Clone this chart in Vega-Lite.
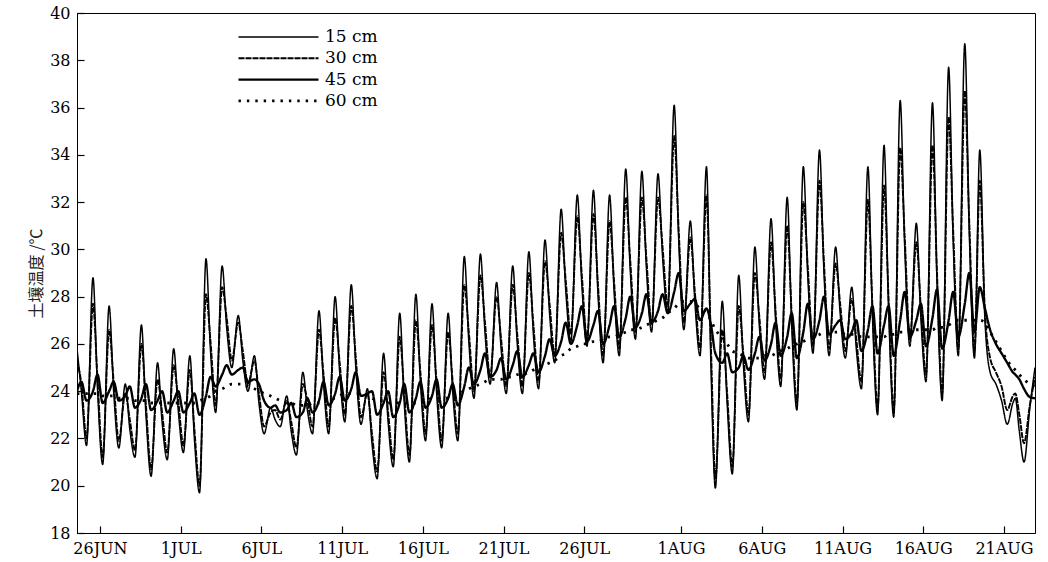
{
 "$schema": "https://vega.github.io/schema/vega-lite/v6.json",
 "width": 958, "height": 520,
 "autosize": {"type": "none"},
 "padding": {"left": 77, "top": 13, "right": 13, "bottom": 29},
 "background": "white",
 "config": {"view": {"stroke": "black", "strokeWidth": 1}},
 "data": {"values": [
{"t":-6.42,"15 cm":25.8,"30 cm":25.3,"45 cm":24.0,"60 cm":23.9},
{"t":-6.15,"15 cm":24.0,"30 cm":24.3,"45 cm":24.4,"60 cm":23.9},
{"t":-5.83,"15 cm":21.7,"30 cm":22.0,"45 cm":23.6,"60 cm":23.9},
{"t":-5.43,"15 cm":28.8,"30 cm":27.7,"45 cm":24.0,"60 cm":23.9},
{"t":-5.15,"15 cm":24.1,"30 cm":24.5,"45 cm":24.7,"60 cm":23.9},
{"t":-4.83,"15 cm":20.9,"30 cm":21.2,"45 cm":23.5,"60 cm":23.8},
{"t":-4.43,"15 cm":27.6,"30 cm":26.6,"45 cm":24.0,"60 cm":23.8},
{"t":-4.15,"15 cm":24.0,"30 cm":24.4,"45 cm":24.4,"60 cm":23.8},
{"t":-3.83,"15 cm":21.6,"30 cm":21.9,"45 cm":23.6,"60 cm":23.7},
{"t":-3.43,"15 cm":24.3,"30 cm":23.9,"45 cm":23.8,"60 cm":23.7},
{"t":-3.15,"15 cm":22.4,"30 cm":22.8,"45 cm":24.2,"60 cm":23.7},
{"t":-2.83,"15 cm":21.2,"30 cm":21.5,"45 cm":23.3,"60 cm":23.6},
{"t":-2.43,"15 cm":26.8,"30 cm":26.0,"45 cm":23.7,"60 cm":23.6},
{"t":-2.15,"15 cm":23.0,"30 cm":23.4,"45 cm":24.3,"60 cm":23.6},
{"t":-1.83,"15 cm":20.4,"30 cm":20.7,"45 cm":23.2,"60 cm":23.5},
{"t":-1.43,"15 cm":25.2,"30 cm":24.5,"45 cm":23.6,"60 cm":23.5},
{"t":-1.15,"15 cm":22.7,"30 cm":23.1,"45 cm":24.0,"60 cm":23.5},
{"t":-0.83,"15 cm":21.1,"30 cm":21.4,"45 cm":23.1,"60 cm":23.5},
{"t":-0.43,"15 cm":25.8,"30 cm":25.1,"45 cm":23.6,"60 cm":23.5},
{"t":-0.15,"15 cm":23.2,"30 cm":23.6,"45 cm":24.0,"60 cm":23.5},
{"t":0.17,"15 cm":21.4,"30 cm":21.7,"45 cm":23.1,"60 cm":23.5},
{"t":0.57,"15 cm":25.5,"30 cm":24.9,"45 cm":23.5,"60 cm":23.5},
{"t":0.85,"15 cm":22.0,"30 cm":22.4,"45 cm":23.9,"60 cm":23.5},
{"t":1.17,"15 cm":19.7,"30 cm":20.0,"45 cm":23.0,"60 cm":23.6},
{"t":1.57,"15 cm":29.6,"30 cm":28.1,"45 cm":23.8,"60 cm":23.7},
{"t":1.85,"15 cm":25.7,"30 cm":26.1,"45 cm":24.6,"60 cm":23.8},
{"t":2.17,"15 cm":23.1,"30 cm":23.4,"45 cm":24.2,"60 cm":24.0},
{"t":2.57,"15 cm":29.3,"30 cm":28.4,"45 cm":24.7,"60 cm":24.1},
{"t":2.85,"15 cm":26.7,"30 cm":27.1,"45 cm":25.1,"60 cm":24.2},
{"t":3.17,"15 cm":25.0,"30 cm":25.3,"45 cm":24.7,"60 cm":24.3},
{"t":3.57,"15 cm":27.2,"30 cm":26.9,"45 cm":24.9,"60 cm":24.3},
{"t":3.85,"15 cm":25.3,"30 cm":25.7,"45 cm":25.0,"60 cm":24.3},
{"t":4.17,"15 cm":24.0,"30 cm":24.3,"45 cm":24.4,"60 cm":24.2},
{"t":4.57,"15 cm":25.5,"30 cm":25.3,"45 cm":24.5,"60 cm":24.1},
{"t":4.85,"15 cm":23.5,"30 cm":23.9,"45 cm":24.3,"60 cm":24.0},
{"t":5.17,"15 cm":22.2,"30 cm":22.5,"45 cm":23.6,"60 cm":23.9},
{"t":5.57,"15 cm":23.3,"30 cm":23.1,"45 cm":23.3,"60 cm":23.8},
{"t":5.85,"15 cm":22.8,"30 cm":23.2,"45 cm":23.4,"60 cm":23.7},
{"t":6.17,"15 cm":22.5,"30 cm":22.8,"45 cm":23.1,"60 cm":23.6},
{"t":6.57,"15 cm":23.8,"30 cm":23.6,"45 cm":23.2,"60 cm":23.5},
{"t":6.85,"15 cm":22.3,"30 cm":22.7,"45 cm":23.5,"60 cm":23.5},
{"t":7.17,"15 cm":21.3,"30 cm":21.6,"45 cm":22.9,"60 cm":23.4},
{"t":7.57,"15 cm":24.8,"30 cm":24.3,"45 cm":23.1,"60 cm":23.4},
{"t":7.85,"15 cm":23.2,"30 cm":23.6,"45 cm":23.7,"60 cm":23.4},
{"t":8.17,"15 cm":22.2,"30 cm":22.5,"45 cm":23.1,"60 cm":23.5},
{"t":8.57,"15 cm":27.4,"30 cm":26.6,"45 cm":23.6,"60 cm":23.5},
{"t":8.85,"15 cm":24.3,"30 cm":24.7,"45 cm":24.4,"60 cm":23.6},
{"t":9.17,"15 cm":22.2,"30 cm":22.5,"45 cm":23.4,"60 cm":23.7},
{"t":9.57,"15 cm":28.0,"30 cm":27.1,"45 cm":23.9,"60 cm":23.7},
{"t":9.85,"15 cm":24.8,"30 cm":25.2,"45 cm":24.6,"60 cm":23.8},
{"t":10.17,"15 cm":22.7,"30 cm":23.0,"45 cm":23.6,"60 cm":23.9},
{"t":10.57,"15 cm":28.5,"30 cm":27.6,"45 cm":24.1,"60 cm":23.9},
{"t":10.85,"15 cm":25.0,"30 cm":25.4,"45 cm":24.8,"60 cm":23.9},
{"t":11.17,"15 cm":22.6,"30 cm":22.9,"45 cm":23.8,"60 cm":23.9},
{"t":11.57,"15 cm":24.1,"30 cm":23.9,"45 cm":23.9,"60 cm":23.8},
{"t":11.85,"15 cm":21.8,"30 cm":22.2,"45 cm":24.0,"60 cm":23.7},
{"t":12.17,"15 cm":20.3,"30 cm":20.6,"45 cm":23.0,"60 cm":23.6},
{"t":12.57,"15 cm":25.6,"30 cm":24.8,"45 cm":23.5,"60 cm":23.6},
{"t":12.85,"15 cm":22.7,"30 cm":23.1,"45 cm":24.0,"60 cm":23.5},
{"t":13.17,"15 cm":20.8,"30 cm":21.1,"45 cm":22.9,"60 cm":23.5},
{"t":13.57,"15 cm":27.3,"30 cm":26.3,"45 cm":23.5,"60 cm":23.5},
{"t":13.85,"15 cm":23.5,"30 cm":23.9,"45 cm":24.3,"60 cm":23.5},
{"t":14.17,"15 cm":21.0,"30 cm":21.3,"45 cm":23.1,"60 cm":23.5},
{"t":14.57,"15 cm":28.1,"30 cm":27.0,"45 cm":23.7,"60 cm":23.5},
{"t":14.85,"15 cm":24.4,"30 cm":24.8,"45 cm":24.4,"60 cm":23.6},
{"t":15.17,"15 cm":21.9,"30 cm":22.2,"45 cm":23.3,"60 cm":23.6},
{"t":15.57,"15 cm":27.7,"30 cm":26.8,"45 cm":23.8,"60 cm":23.7},
{"t":15.85,"15 cm":24.0,"30 cm":24.4,"45 cm":24.5,"60 cm":23.7},
{"t":16.17,"15 cm":21.6,"30 cm":21.9,"45 cm":23.3,"60 cm":23.7},
{"t":16.57,"15 cm":27.3,"30 cm":26.5,"45 cm":23.7,"60 cm":23.7},
{"t":16.85,"15 cm":24.0,"30 cm":24.4,"45 cm":24.3,"60 cm":23.8},
{"t":17.17,"15 cm":21.9,"30 cm":22.2,"45 cm":23.4,"60 cm":23.9},
{"t":17.57,"15 cm":29.7,"30 cm":28.5,"45 cm":24.2,"60 cm":24.0},
{"t":17.85,"15 cm":26.1,"30 cm":26.5,"45 cm":25.0,"60 cm":24.1},
{"t":18.17,"15 cm":23.7,"30 cm":24.0,"45 cm":24.3,"60 cm":24.2},
{"t":18.57,"15 cm":29.8,"30 cm":28.9,"45 cm":24.9,"60 cm":24.3},
{"t":18.85,"15 cm":26.5,"30 cm":26.9,"45 cm":25.6,"60 cm":24.4},
{"t":19.17,"15 cm":24.3,"30 cm":24.6,"45 cm":24.6,"60 cm":24.5},
{"t":19.57,"15 cm":28.6,"30 cm":28.0,"45 cm":24.9,"60 cm":24.5},
{"t":19.85,"15 cm":25.8,"30 cm":26.2,"45 cm":25.4,"60 cm":24.5},
{"t":20.17,"15 cm":23.9,"30 cm":24.2,"45 cm":24.5,"60 cm":24.6},
{"t":20.57,"15 cm":29.3,"30 cm":28.5,"45 cm":25.1,"60 cm":24.6},
{"t":20.85,"15 cm":26.0,"30 cm":26.4,"45 cm":25.7,"60 cm":24.7},
{"t":21.17,"15 cm":23.9,"30 cm":24.2,"45 cm":24.6,"60 cm":24.7},
{"t":21.57,"15 cm":29.9,"30 cm":29.0,"45 cm":25.1,"60 cm":24.8},
{"t":21.85,"15 cm":26.4,"30 cm":26.8,"45 cm":25.6,"60 cm":24.9},
{"t":22.17,"15 cm":24.1,"30 cm":24.4,"45 cm":24.8,"60 cm":25.0},
{"t":22.57,"15 cm":30.4,"30 cm":29.5,"45 cm":25.5,"60 cm":25.1},
{"t":22.85,"15 cm":27.3,"30 cm":27.7,"45 cm":26.2,"60 cm":25.2},
{"t":23.17,"15 cm":25.2,"30 cm":25.5,"45 cm":25.5,"60 cm":25.3},
{"t":23.57,"15 cm":31.7,"30 cm":30.7,"45 cm":26.1,"60 cm":25.5},
{"t":23.85,"15 cm":28.3,"30 cm":28.7,"45 cm":26.9,"60 cm":25.6},
{"t":24.17,"15 cm":26.1,"30 cm":26.4,"45 cm":26.0,"60 cm":25.8},
{"t":24.57,"15 cm":32.3,"30 cm":31.4,"45 cm":26.8,"60 cm":25.9},
{"t":24.85,"15 cm":28.5,"30 cm":28.9,"45 cm":27.6,"60 cm":26.0},
{"t":25.17,"15 cm":25.9,"30 cm":26.2,"45 cm":26.1,"60 cm":26.0},
{"t":25.57,"15 cm":32.5,"30 cm":31.5,"45 cm":26.8,"60 cm":26.1},
{"t":25.85,"15 cm":28.1,"30 cm":28.5,"45 cm":27.4,"60 cm":26.1},
{"t":26.17,"15 cm":25.2,"30 cm":25.5,"45 cm":26.0,"60 cm":26.2},
{"t":26.57,"15 cm":32.3,"30 cm":31.2,"45 cm":26.8,"60 cm":26.3},
{"t":26.85,"15 cm":28.2,"30 cm":28.6,"45 cm":27.6,"60 cm":26.3},
{"t":27.17,"15 cm":25.5,"30 cm":25.8,"45 cm":26.3,"60 cm":26.4},
{"t":27.57,"15 cm":33.4,"30 cm":32.2,"45 cm":27.1,"60 cm":26.5},
{"t":27.85,"15 cm":29.1,"30 cm":29.5,"45 cm":28.0,"60 cm":26.6},
{"t":28.17,"15 cm":26.2,"30 cm":26.5,"45 cm":26.7,"60 cm":26.6},
{"t":28.57,"15 cm":33.3,"30 cm":32.2,"45 cm":27.3,"60 cm":26.7},
{"t":28.85,"15 cm":29.2,"30 cm":29.6,"45 cm":28.1,"60 cm":26.8},
{"t":29.17,"15 cm":26.5,"30 cm":26.8,"45 cm":26.9,"60 cm":26.9},
{"t":29.57,"15 cm":33.2,"30 cm":32.2,"45 cm":27.4,"60 cm":27.0},
{"t":29.85,"15 cm":29.7,"30 cm":30.1,"45 cm":28.1,"60 cm":27.1},
{"t":30.17,"15 cm":27.3,"30 cm":27.6,"45 cm":27.3,"60 cm":27.3},
{"t":30.57,"15 cm":36.1,"30 cm":34.8,"45 cm":28.2,"60 cm":27.5},
{"t":30.85,"15 cm":30.4,"30 cm":30.8,"45 cm":29.0,"60 cm":27.7},
{"t":31.17,"15 cm":26.6,"30 cm":26.9,"45 cm":27.4,"60 cm":27.8},
{"t":31.57,"15 cm":31.2,"30 cm":30.5,"45 cm":27.7,"60 cm":27.8},
{"t":31.85,"15 cm":27.8,"30 cm":28.2,"45 cm":27.9,"60 cm":27.7},
{"t":32.17,"15 cm":25.5,"30 cm":25.8,"45 cm":27.0,"60 cm":27.5},
{"t":32.57,"15 cm":33.5,"30 cm":32.3,"45 cm":27.5,"60 cm":27.3},
{"t":32.85,"15 cm":25.0,"30 cm":25.8,"45 cm":26.8,"60 cm":27.0},
{"t":33.12,"15 cm":19.9,"30 cm":20.3,"45 cm":25.6,"60 cm":26.6},
{"t":33.55,"15 cm":27.8,"30 cm":26.6,"45 cm":25.2,"60 cm":26.3},
{"t":33.85,"15 cm":23.5,"30 cm":23.9,"45 cm":25.6,"60 cm":26.0},
{"t":34.17,"15 cm":20.5,"30 cm":20.8,"45 cm":24.8,"60 cm":25.7},
{"t":34.57,"15 cm":28.9,"30 cm":27.6,"45 cm":25.0,"60 cm":25.6},
{"t":34.85,"15 cm":25.2,"30 cm":25.6,"45 cm":25.5,"60 cm":25.5},
{"t":35.17,"15 cm":22.7,"30 cm":23.0,"45 cm":24.9,"60 cm":25.4},
{"t":35.57,"15 cm":30.1,"30 cm":29.0,"45 cm":25.6,"60 cm":25.4},
{"t":35.85,"15 cm":26.7,"30 cm":27.1,"45 cm":26.3,"60 cm":25.4},
{"t":36.17,"15 cm":24.5,"30 cm":24.8,"45 cm":25.3,"60 cm":25.5},
{"t":36.57,"15 cm":31.3,"30 cm":30.3,"45 cm":26.0,"60 cm":25.5},
{"t":36.85,"15 cm":27.0,"30 cm":27.4,"45 cm":26.9,"60 cm":25.6},
{"t":37.17,"15 cm":24.2,"30 cm":24.5,"45 cm":25.5,"60 cm":25.7},
{"t":37.57,"15 cm":32.2,"30 cm":31.0,"45 cm":26.3,"60 cm":25.8},
{"t":37.85,"15 cm":26.8,"30 cm":27.2,"45 cm":27.3,"60 cm":25.9},
{"t":38.17,"15 cm":23.2,"30 cm":23.5,"45 cm":25.4,"60 cm":26.0},
{"t":38.57,"15 cm":33.5,"30 cm":32.0,"45 cm":26.5,"60 cm":26.1},
{"t":38.85,"15 cm":28.8,"30 cm":29.2,"45 cm":27.7,"60 cm":26.2},
{"t":39.17,"15 cm":25.6,"30 cm":25.9,"45 cm":26.2,"60 cm":26.3},
{"t":39.57,"15 cm":34.2,"30 cm":32.9,"45 cm":27.0,"60 cm":26.4},
{"t":39.85,"15 cm":29.0,"30 cm":29.4,"45 cm":28.0,"60 cm":26.5},
{"t":40.17,"15 cm":25.5,"30 cm":25.8,"45 cm":26.4,"60 cm":26.5},
{"t":40.57,"15 cm":30.1,"30 cm":29.4,"45 cm":26.8,"60 cm":26.5},
{"t":40.85,"15 cm":27.3,"30 cm":27.7,"45 cm":27.0,"60 cm":26.5},
{"t":41.17,"15 cm":25.4,"30 cm":25.7,"45 cm":26.2,"60 cm":26.4},
{"t":41.57,"15 cm":28.4,"30 cm":27.9,"45 cm":26.5,"60 cm":26.4},
{"t":41.85,"15 cm":25.8,"30 cm":26.2,"45 cm":27.0,"60 cm":26.4},
{"t":42.17,"15 cm":24.1,"30 cm":24.4,"45 cm":25.7,"60 cm":26.3},
{"t":42.57,"15 cm":33.5,"30 cm":32.1,"45 cm":26.6,"60 cm":26.3},
{"t":42.85,"15 cm":27.2,"30 cm":27.6,"45 cm":27.6,"60 cm":26.3},
{"t":43.17,"15 cm":23.0,"30 cm":23.3,"45 cm":25.6,"60 cm":26.3},
{"t":43.57,"15 cm":34.4,"30 cm":32.7,"45 cm":26.8,"60 cm":26.3},
{"t":43.85,"15 cm":27.5,"30 cm":27.9,"45 cm":27.6,"60 cm":26.4},
{"t":44.17,"15 cm":22.9,"30 cm":23.2,"45 cm":25.5,"60 cm":26.4},
{"t":44.57,"15 cm":36.3,"30 cm":34.3,"45 cm":27.0,"60 cm":26.5},
{"t":44.85,"15 cm":30.1,"30 cm":30.5,"45 cm":28.2,"60 cm":26.5},
{"t":45.17,"15 cm":25.9,"30 cm":26.2,"45 cm":26.3,"60 cm":26.6},
{"t":45.57,"15 cm":31.1,"30 cm":30.3,"45 cm":27.0,"60 cm":26.6},
{"t":45.85,"15 cm":27.1,"30 cm":27.5,"45 cm":27.7,"60 cm":26.6},
{"t":46.17,"15 cm":24.4,"30 cm":24.7,"45 cm":25.9,"60 cm":26.6},
{"t":46.57,"15 cm":36.2,"30 cm":34.4,"45 cm":27.1,"60 cm":26.6},
{"t":46.85,"15 cm":28.6,"30 cm":29.0,"45 cm":28.3,"60 cm":26.7},
{"t":47.17,"15 cm":23.6,"30 cm":23.9,"45 cm":25.8,"60 cm":26.7},
{"t":47.57,"15 cm":37.7,"30 cm":35.6,"45 cm":27.0,"60 cm":26.8},
{"t":47.85,"15 cm":30.4,"30 cm":30.8,"45 cm":28.2,"60 cm":26.9},
{"t":48.17,"15 cm":25.5,"30 cm":25.8,"45 cm":26.3,"60 cm":27.0},
{"t":48.57,"15 cm":38.7,"30 cm":36.7,"45 cm":27.7,"60 cm":27.0},
{"t":48.85,"15 cm":30.7,"30 cm":31.1,"45 cm":29.0,"60 cm":27.0},
{"t":49.17,"15 cm":25.4,"30 cm":25.7,"45 cm":26.5,"60 cm":27.0},
{"t":49.5,"15 cm":34.2,"30 cm":32.9,"45 cm":28.4,"60 cm":27.0},
{"t":49.82,"15 cm":27.0,"30 cm":27.3,"45 cm":27.5,"60 cm":26.9},
{"t":50.14,"15 cm":24.8,"30 cm":25.4,"45 cm":26.6,"60 cm":26.5},
{"t":50.5,"15 cm":24.3,"30 cm":24.8,"45 cm":26.0,"60 cm":26.1},
{"t":50.85,"15 cm":23.6,"30 cm":24.2,"45 cm":25.6,"60 cm":25.7},
{"t":51.2,"15 cm":22.6,"30 cm":23.2,"45 cm":25.2,"60 cm":25.3},
{"t":51.55,"15 cm":23.5,"30 cm":23.8,"45 cm":24.8,"60 cm":25.0},
{"t":51.7,"15 cm":23.7,"30 cm":23.9,"45 cm":24.7,"60 cm":24.9},
{"t":51.95,"15 cm":22.3,"30 cm":23.0,"45 cm":24.5,"60 cm":24.7},
{"t":52.24,"15 cm":21.0,"30 cm":21.8,"45 cm":24.1,"60 cm":24.5},
{"t":52.6,"15 cm":23.3,"30 cm":23.4,"45 cm":23.75,"60 cm":24.3},
{"t":52.92,"15 cm":25.0,"30 cm":24.6,"45 cm":23.7,"60 cm":24.2}
 ]},
 "transform": [{"fold": ["15 cm", "30 cm", "45 cm", "60 cm"], "as": ["depth", "temp"]}],
 "mark": {"type": "line", "color": "black", "strokeJoin": "round", "interpolate": "monotone", "clip": true},
 "encoding": {
  "x": {"field": "t", "type": "quantitative",
   "scale": {"domain": [-6.42, 52.92], "nice": false, "zero": false},
   "axis": {"title": null, "grid": false, "values": [-5, 0, 5, 10, 15, 20, 25, 31, 36, 41, 46, 51],
    "labelExpr": "datum.value < 0 ? (datum.value + 31) + 'JUN' : (datum.value < 31 ? (datum.value + 1) + 'JUL' : (datum.value - 30) + 'AUG')",
    "tickSize": -7, "tickWidth": 1.2, "tickColor": "black", "domainColor": "black", "labelPadding": 14,
    "labelFont": "DejaVu Serif", "labelFontSize": 16, "labelColor": "black", "labelFlush": false, "labelOverlap": false}},
  "y": {"field": "temp", "type": "quantitative",
   "scale": {"domain": [18, 40], "nice": false, "zero": false},
   "axis": {"title": "土壤温度 /℃", "grid": false, "values": [18, 20, 22, 24, 26, 28, 30, 32, 34, 36, 38, 40],
    "tickSize": -7, "tickWidth": 1.2, "tickColor": "black", "domainColor": "black", "labelPadding": 14,
    "labelFont": "DejaVu Serif", "labelFontSize": 16, "labelColor": "black",
    "titleFont": "Noto Sans CJK SC", "titleFontSize": 16, "titleFontWeight": "normal", "titleColor": "#222", "titlePadding": 5}},
  "strokeDash": {"field": "depth", "type": "nominal",
   "scale": {"domain": ["15 cm", "30 cm", "45 cm", "60 cm"], "range": [[1, 0], [6, 1], [1, 0], [2.4, 6]]},
   "legend": {"orient": "none", "legendX": 160, "legendY": 14.5, "title": null, "symbolType": "stroke", "symbolSize": 6400,
    "clipHeight": 19, "rowPadding": 2.3, "padding": 0, "labelOffset": 5, "symbolStrokeColor": "black",
    "labelFont": "DejaVu Serif", "labelFontSize": 17, "labelColor": "black"}},
  "strokeWidth": {"field": "depth", "type": "ordinal",
   "scale": {"domain": ["15 cm", "30 cm", "45 cm", "60 cm"], "range": [1.5, 2.8, 2.8, 2.5]},
   "legend": {"orient": "none", "legendX": 160, "legendY": 14.5, "title": null, "symbolType": "stroke", "symbolSize": 6400,
    "clipHeight": 19, "rowPadding": 2.3, "padding": 0, "labelOffset": 5, "symbolStrokeColor": "black",
    "labelFont": "DejaVu Serif", "labelFontSize": 17, "labelColor": "black"}}
 }
}
